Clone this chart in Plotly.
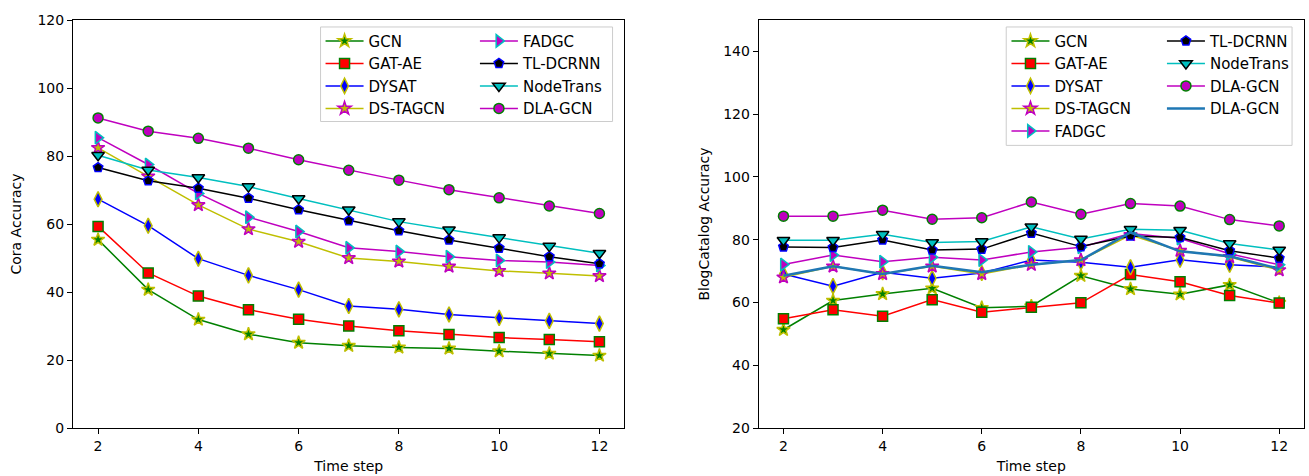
import plotly.graph_objects as go

time_steps = [2, 3, 4, 5, 6, 7, 8, 9, 10, 11, 12]
x_ticks = [2, 4, 6, 8, 10, 12]

# Cora accuracy
cora_gcn = [55.4, 40.7, 31.9, 27.6, 25.1, 24.2, 23.7, 23.4, 22.6, 21.9, 21.3]
cora_gat_ae = [59.3, 45.6, 38.8, 34.8, 32.0, 30.0, 28.6, 27.5, 26.6, 26.0, 25.4]
cora_dysat = [67.3, 59.5, 49.8, 44.9, 40.7, 35.9, 34.9, 33.4, 32.4, 31.5, 30.7]
cora_ds_tagcn = [82.4, 74.0, 65.6, 58.5, 54.8, 50.0, 49.0, 47.5, 46.2, 45.5, 44.7]
cora_fadgc = [85.4, 77.5, 69.0, 62.0, 57.8, 53.0, 51.9, 50.4, 49.3, 48.8, 47.8]
cora_tl_dcrnn = [76.6, 72.7, 70.5, 67.6, 64.2, 61.0, 58.0, 55.3, 52.9, 50.4, 48.3]
cora_nodetrans = [80.2, 75.9, 73.7, 71.0, 67.5, 64.2, 60.7, 58.3, 56.0, 53.5, 51.4]
cora_dla_gcn = [91.2, 87.3, 85.2, 82.3, 78.9, 75.8, 72.9, 70.1, 67.7, 65.3, 63.1]

# BlogCatalog accuracy
blog_gcn = [51.3, 60.6, 62.7, 64.5, 58.3, 58.8, 68.5, 64.3, 62.6, 65.6, 59.9]
blog_gat_ae = [54.8, 57.7, 55.6, 60.9, 56.9, 58.5, 59.9, 68.9, 66.6, 62.2, 59.8]
blog_dysat = [69.1, 65.2, 69.6, 67.7, 69.4, 73.5, 72.8, 71.2, 73.6, 72.0, 71.3]
blog_ds_tagcn = [68.0, 71.5, 69.1, 71.5, 69.1, 72.0, 73.5, 81.5, 76.5, 74.5, 70.3]
blog_fadgc = [72.1, 75.1, 73.0, 74.4, 73.5, 76.1, 77.6, 82.0, 80.4, 75.5, 72.0]
blog_tl_dcrnn = [77.7, 77.5, 79.9, 76.7, 77.0, 82.1, 77.8, 81.2, 80.7, 76.5, 74.1]
blog_nodetrans = [79.8, 79.8, 81.7, 79.1, 79.4, 84.1, 80.2, 83.3, 83.0, 78.8, 76.7]
blog_dla_gcn = [87.5, 87.5, 89.4, 86.5, 87.0, 92.0, 88.1, 91.5, 90.7, 86.4, 84.4]
blog_dla_gcn_line = [68.5, 71.5, 69.1, 71.7, 69.6, 72.0, 73.5, 82.3, 76.3, 74.7, 70.7]

FONT = "DejaVu Sans"

# name: line colour, symbol, face, edge, size
styles = {
    "GCN": ("#008000", "star", "#008000", "#bfbf00", 10),
    "GAT-AE": ("#ff0000", "square", "#ff0000", "#008000", 10),
    "DYSAT": ("#0000ff", "diamond-tall", "#0000ff", "#bfbf00", 11),
    "DS-TAGCN": ("#bfbf00", "star", "#bfbf00", "#bf00bf", 10),
    "FADGC": ("#bf00bf", "triangle-right", "#bf00bf", "#00bfbf", 11),
    "TL-DCRNN": ("#000000", "pentagon", "#000000", "#0000ff", 10),
    "NodeTrans": ("#00bfbf", "triangle-down", "#00bfbf", "#000000", 11),
    "DLA-GCN": ("#bf00bf", "circle", "#bf00bf", "#008000", 10),
}


def add(fig, name, y, xa, ya, legend):
    lc, sym, face, edge, size = styles[name]
    fig.add_trace(go.Scatter(
        x=time_steps, y=y, name=name, mode="lines+markers",
        xaxis=xa, yaxis=ya, legend=legend,
        line=dict(color=lc, width=1.5),
        marker=dict(symbol=sym, color=face, size=size,
                    line=dict(color=edge, width=1.5)),
    ))


fig = go.Figure()

cora = [("GCN", cora_gcn), ("GAT-AE", cora_gat_ae), ("DYSAT", cora_dysat),
        ("DS-TAGCN", cora_ds_tagcn), ("FADGC", cora_fadgc),
        ("TL-DCRNN", cora_tl_dcrnn), ("NodeTrans", cora_nodetrans),
        ("DLA-GCN", cora_dla_gcn)]
for i, (n, v) in enumerate(cora):
    add(fig, n, v, "x", "y", "legend" if i < 4 else "legend2")

blog = [("GCN", blog_gcn), ("GAT-AE", blog_gat_ae), ("DYSAT", blog_dysat),
        ("DS-TAGCN", blog_ds_tagcn), ("FADGC", blog_fadgc),
        ("TL-DCRNN", blog_tl_dcrnn), ("NodeTrans", blog_nodetrans),
        ("DLA-GCN", blog_dla_gcn)]
for i, (n, v) in enumerate(blog):
    add(fig, n, v, "x2", "y2", "legend3" if i < 5 else "legend4")

fig.add_trace(go.Scatter(
    x=time_steps, y=blog_dla_gcn_line, name="DLA-GCN", mode="lines",
    xaxis="x2", yaxis="y2", legend="legend4",
    line=dict(color="#1f77b4", width=2.5),
))

axis_common = dict(
    showline=True, mirror=True, linecolor="black", linewidth=1,
    ticks="outside", ticklen=5, tickwidth=1, tickcolor="black",
    showgrid=False, zeroline=False,
    tickfont=dict(family=FONT, size=14, color="black"),
)

fig.update_layout(
    width=1309, height=476,
    margin=dict(l=73, r=4, t=20, b=46),
    plot_bgcolor="white", paper_bgcolor="white",
    font=dict(family=FONT, size=14, color="black"),
    xaxis=dict(domain=[0, 0.448], range=[1.5, 12.5], tickvals=x_ticks,
               title=dict(text="Time step", standoff=8,
                          font=dict(family=FONT, size=14)),
               **axis_common),
    yaxis=dict(domain=[0, 1], range=[0, 120], dtick=20,
               title=dict(text="Cora Accuracy", standoff=12,
                          font=dict(family=FONT, size=14)),
               **axis_common),
    xaxis2=dict(domain=[0.557, 1.0], range=[1.5, 12.5], tickvals=x_ticks,
                anchor="y2",
                title=dict(text="Time step", standoff=8,
                           font=dict(family=FONT, size=14)),
                **axis_common),
    yaxis2=dict(domain=[0, 1], range=[20, 150], tickvals=[20, 40, 60, 80, 100, 120, 140],
                anchor="x2",
                title=dict(text="BlogCatalog Accuracy", standoff=10,
                           font=dict(family=FONT, size=14)),
                **axis_common),
    showlegend=True,
)

leg_common = dict(
    bgcolor="rgba(0,0,0,0)", borderwidth=0, itemwidth=38,
    font=dict(family=FONT, size=15, color="black"),
    xanchor="left", yanchor="top", orientation="v", tracegroupgap=0,
    itemclick=False, itemdoubleclick=False,
)
fig.update_layout(
    legend=dict(x=0.2011, y=0.9886, **leg_common),
    legend2=dict(x=0.3265, y=0.9886, **leg_common),
    legend3=dict(x=0.7583, y=0.9886, **leg_common),
    legend4=dict(x=0.8846, y=0.9886, **leg_common),
)

# legend frames (matplotlib-style boxes)
for x0, x1, y0, y1 in [(0.2011, 0.4383, 0.7512, 0.9829),
                       (0.7581, 0.9903, 0.6927, 0.9829)]:
    fig.add_shape(type="rect", xref="paper", yref="paper",
                  x0=x0, x1=x1, y0=y0, y1=y1, layer="above",
                  line=dict(color="#cccccc", width=1),
                  fillcolor="rgba(255,255,255,0.8)")

fig.write_html(
    "out.html",
    config={"displayModeBar": False},
    post_script="document.body.style.margin='0';document.body.style.overflow='hidden';",
)
